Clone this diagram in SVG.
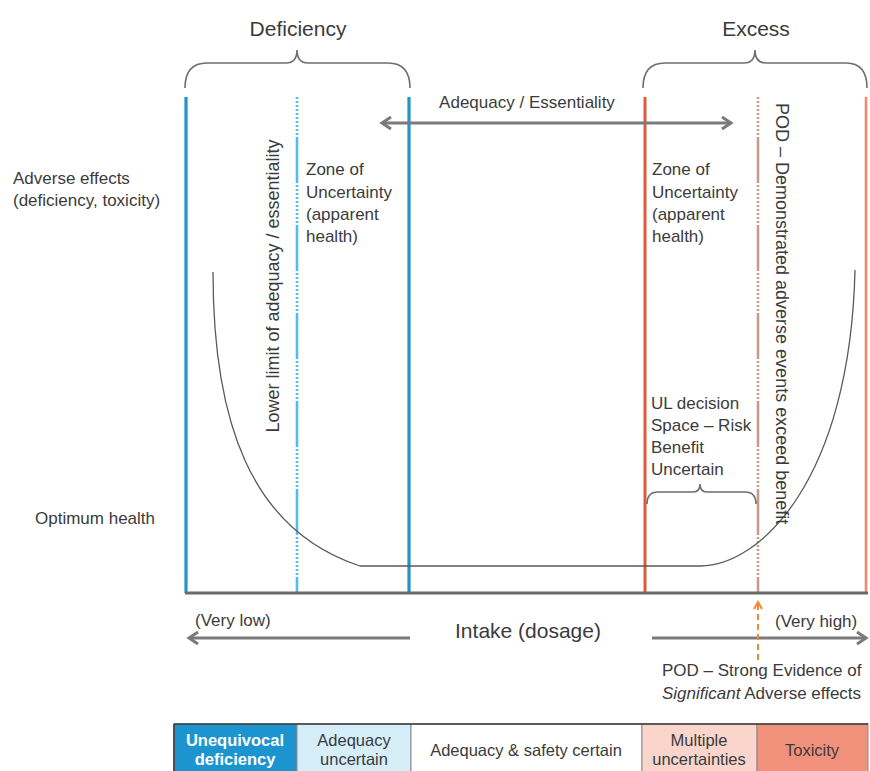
<svg xmlns="http://www.w3.org/2000/svg" width="870" height="771" viewBox="0 0 870 771">
<style>
text{font-family:"Liberation Sans",Arial,sans-serif;fill:#3b3b3b;font-size:17px}
.big{font-size:21px}
.vert{font-size:18px}
.brace{fill:none;stroke:#6e6e6e;stroke-width:1.6}
.garrow{fill:none;stroke:#7a7a7a;stroke-width:3}
.dots{stroke-dasharray:2 2 2 2 2 2 2 2 2 2 2 2 2 2 2 2 2 2 2 2 46 2}
.cell{stroke:#8a8a8a;stroke-width:1}
.ctext{text-anchor:middle;font-size:16.5px}
</style>
<defs>
<marker id="chev" markerUnits="userSpaceOnUse" markerWidth="14" markerHeight="16" refX="10" refY="7" orient="auto-start-reverse">
<path d="M1,1 L10,7 L1,13" fill="none" stroke="#7a7a7a" stroke-width="3"/>
</marker>
<marker id="ochev" markerUnits="userSpaceOnUse" markerWidth="12" markerHeight="12" refX="8" refY="5" orient="auto">
<path d="M1,1 L8,5 L1,9" fill="none" stroke="#f0883a" stroke-width="2"/>
</marker>
</defs>
<rect width="870" height="771" fill="#ffffff"/>

<g id="headers">
<text class="big" x="298" y="36" text-anchor="middle">Deficiency</text>
<path class="brace" d="M185,88 Q185,63 207,63 L286,63 Q297,63 297,50 Q297,63 308,63 L388,63 Q410,63 410,88"/>
<text class="big" x="756" y="36" text-anchor="middle">Excess</text>
<path class="brace" d="M643,88 Q643,63 665,63 L744,63 Q755,63 755,50 Q755,63 766,63 L846,63 Q867,63 867,88"/>
</g>

<g id="y-labels">
<text x="13" y="184">Adverse effects</text>
<text x="13" y="206">(deficiency, toxicity)</text>
<text x="35" y="524">Optimum health</text>
</g>

<g id="zone-lines">
<line x1="186" y1="97" x2="186" y2="593" stroke="#2392c8" stroke-width="3.2"/>
<line class="dots" x1="297" y1="97" x2="297" y2="593" stroke="#56bde8" stroke-width="2.6"/>
<line x1="409" y1="97" x2="409" y2="593" stroke="#2392c8" stroke-width="3.2"/>
<line x1="645" y1="97" x2="645" y2="593" stroke="#dd5a3a" stroke-width="3"/>
<line class="dots" x1="758" y1="97" x2="758" y2="593" stroke="#c79a8c" stroke-width="2.6"/>
<line x1="866" y1="97" x2="866" y2="593" stroke="#ef8a70" stroke-width="2.6"/>
</g>

<g id="curve">
<path d="M213,272 C213,420 250,530 360,566 L700,566 C760,566 850,480 855,270" fill="none" stroke="#5a5a5a" stroke-width="1.3"/>
</g>

<g id="baseline">
<line x1="185" y1="593" x2="868" y2="593" stroke="#6a6a6a" stroke-width="3.2"/>
</g>

<g id="lower-limit">
<text class="vert" transform="translate(279,286) rotate(-90)" text-anchor="middle">Lower limit of adequacy / essentiality</text>
</g>

<g id="zone-left">
<text x="306" y="175">Zone of</text>
<text x="306" y="198">Uncertainty</text>
<text x="306" y="220">(apparent</text>
<text x="306" y="242">health)</text>
</g>

<g id="zone-right">
<text x="652" y="175">Zone of</text>
<text x="652" y="198">Uncertainty</text>
<text x="652" y="220">(apparent</text>
<text x="652" y="242">health)</text>
</g>

<g id="pod-demonstrated">
<text class="vert" transform="translate(776,103) rotate(90)">POD – Demonstrated adverse events exceed benefit</text>
</g>

<g id="ul-space">
<text x="651" y="409">UL decision</text>
<text x="651" y="431">Space – Risk</text>
<text x="651" y="453">Benefit</text>
<text x="651" y="475">Uncertain</text>
<path class="brace" d="M647,504 Q647,492 658,492 L693,492 Q700,492 700,484 Q700,492 707,492 L745,492 Q756,492 756,504"/>
</g>

<g id="connectors">
<line class="garrow" x1="382" y1="123" x2="731" y2="123" marker-start="url(#chev)" marker-end="url(#chev)"/>
<line class="garrow" x1="410" y1="638" x2="189" y2="638" marker-end="url(#chev)"/>
<line class="garrow" x1="652" y1="638" x2="866" y2="638" marker-end="url(#chev)"/>
<line x1="758" y1="660" x2="758" y2="602" stroke="#f0883a" stroke-width="2" stroke-dasharray="6 4" marker-end="url(#ochev)"/>
</g>

<g id="adequacy-label">
<text x="527" y="108" text-anchor="middle">Adequacy / Essentiality</text>
</g>

<g id="intake">
<text x="195" y="626">(Very low)</text>
<text class="big" x="528" y="638" text-anchor="middle">Intake (dosage)</text>
<text x="775" y="627">(Very high)</text>
</g>

<g id="pod-strong">
<text x="662" y="676">POD – Strong Evidence of</text>
<text x="662" y="699"><tspan font-style="italic">Significant</tspan> Adverse effects</text>
</g>

<g id="category-bar">
<rect class="cell" x="174" y="724" width="123" height="52" fill="#1b94d0"/>
<rect class="cell" x="297" y="724" width="114" height="52" fill="#d5eefa"/>
<rect class="cell" x="411" y="724" width="231" height="52" fill="#ffffff"/>
<rect class="cell" x="642" y="724" width="115" height="52" fill="#f9d5cc"/>
<rect class="cell" x="757" y="724" width="111" height="52" fill="#f2917b"/>
<line x1="174" y1="724" x2="868" y2="724" stroke="#3a3a3a" stroke-width="1.6"/>
<line x1="174" y1="724" x2="174" y2="771" stroke="#3a3a3a" stroke-width="1.6"/>
<text class="ctext" x="235" y="746" font-weight="bold" style="fill:#ffffff">Unequivocal</text>
<text class="ctext" x="235" y="765" font-weight="bold" style="fill:#ffffff">deficiency</text>
<text class="ctext" x="354" y="746">Adequacy</text>
<text class="ctext" x="354" y="765">uncertain</text>
<text class="ctext" x="526" y="756">Adequacy &amp; safety certain</text>
<text class="ctext" x="699" y="746">Multiple</text>
<text class="ctext" x="699" y="765">uncertainties</text>
<text class="ctext" x="812" y="756">Toxicity</text>
</g>
</svg>
